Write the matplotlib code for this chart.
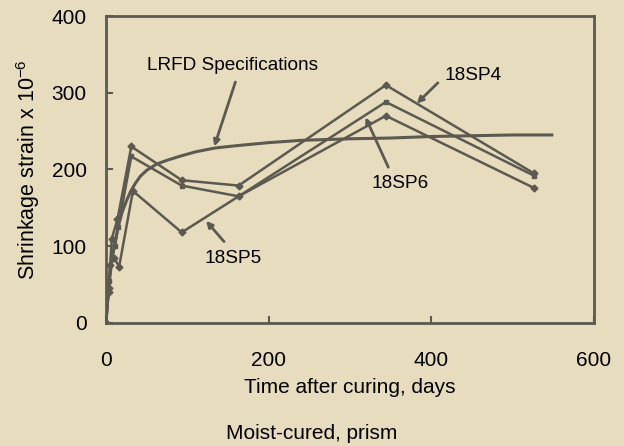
import matplotlib
matplotlib.use("Agg")
import matplotlib.pyplot as plt

plt.rcParams['font.family'] = ['Liberation Sans', 'DejaVu Sans']

# shrinkage readings, microstrain
sp4_days = [0, 3, 7, 14, 31, 93, 163, 344, 526]
sp4_vals = [0, 40, 110, 135, 230, 186, 179, 310, 195]
sp6_days = [0, 4, 7, 11, 15, 31, 93, 163, 344, 526]
sp6_vals = [0, 55, 85, 100, 125, 217, 179, 165, 288, 192]
sp5_days = [0, 3, 5, 10, 16, 33, 93, 163, 344, 526]
sp5_vals = [0, 45, 75, 85, 73, 172, 118, 165, 270, 176]

# LRFD prediction curve
lrfd_days = [0, 1, 2, 4, 6, 8, 10, 13, 16, 20, 25, 30, 36, 42, 50, 62, 75, 90,
             110, 134, 160, 200, 240, 300, 350, 400, 450, 500, 550]
lrfd_vals = [0, 16, 30, 53, 72, 88, 100, 116, 130, 145, 159, 171, 182, 191, 199, 207, 212, 217,
             223, 228, 231, 235, 238, 240, 241, 243, 244, 245, 245]

bg = '#E8DCBE'
ink = '#5B5950'

fig = plt.figure(figsize=(6.24, 4.46), dpi=100, facecolor=bg)
ax = fig.add_axes([0.170, 0.276, 0.782, 0.688], facecolor=bg)

ax.plot(lrfd_days, lrfd_vals, color=ink, lw=2.2, solid_capstyle='butt')
for d, v, m in [(sp4_days, sp4_vals, 'D'), (sp6_days, sp6_vals, 's'), (sp5_days, sp5_vals, 'D')]:
    ax.plot(d, v, color=ink, lw=1.8, marker=m, ms=3.5, mfc=ink, mec=ink)

ax.set_xlim(0, 600)
ax.set_ylim(0, 400)
ax.set_xticks([0, 200, 400, 600])
ax.set_yticks([0, 100, 200, 300, 400])
ax.tick_params(direction='in', length=5, width=1.5, color=ink, labelsize=15, pad=14)
ax.tick_params(axis='x', pad=20)
for s in ax.spines.values():
    s.set_color(ink)
    s.set_linewidth(2)

ax.set_xlabel('Time after curing, days', fontsize=15, labelpad=6)
ax.set_ylabel(r'Shrinkage strain x 10$^{\mathregular{-6}}$', fontsize=15.5, labelpad=7)
fig.text(0.5, 0.029, 'Moist-cured, prism', ha='center', va='center', fontsize=15)

aprops = dict(arrowstyle='-|>', color=ink, lw=2, mutation_scale=9, shrinkA=0, shrinkB=0)
ax.annotate('', xy=(133, 230), xytext=(159, 314), arrowprops=aprops)
ax.text(155, 335, 'LRFD Specifications', ha='center', va='center', fontsize=13.7)
ax.annotate('', xy=(123, 133), xytext=(145, 106), arrowprops=aprops)
ax.text(156, 84, '18SP5', ha='center', va='center', fontsize=13.7)
ax.annotate('', xy=(382, 286), xytext=(408, 313), arrowprops=aprops)
ax.text(451, 323, '18SP4', ha='center', va='center', fontsize=13.7)
ax.annotate('', xy=(319, 268), xytext=(347, 203), arrowprops=aprops)
ax.text(362, 182, '18SP6', ha='center', va='center', fontsize=13.7)

fig.savefig('out.png', dpi=100, facecolor=bg)
